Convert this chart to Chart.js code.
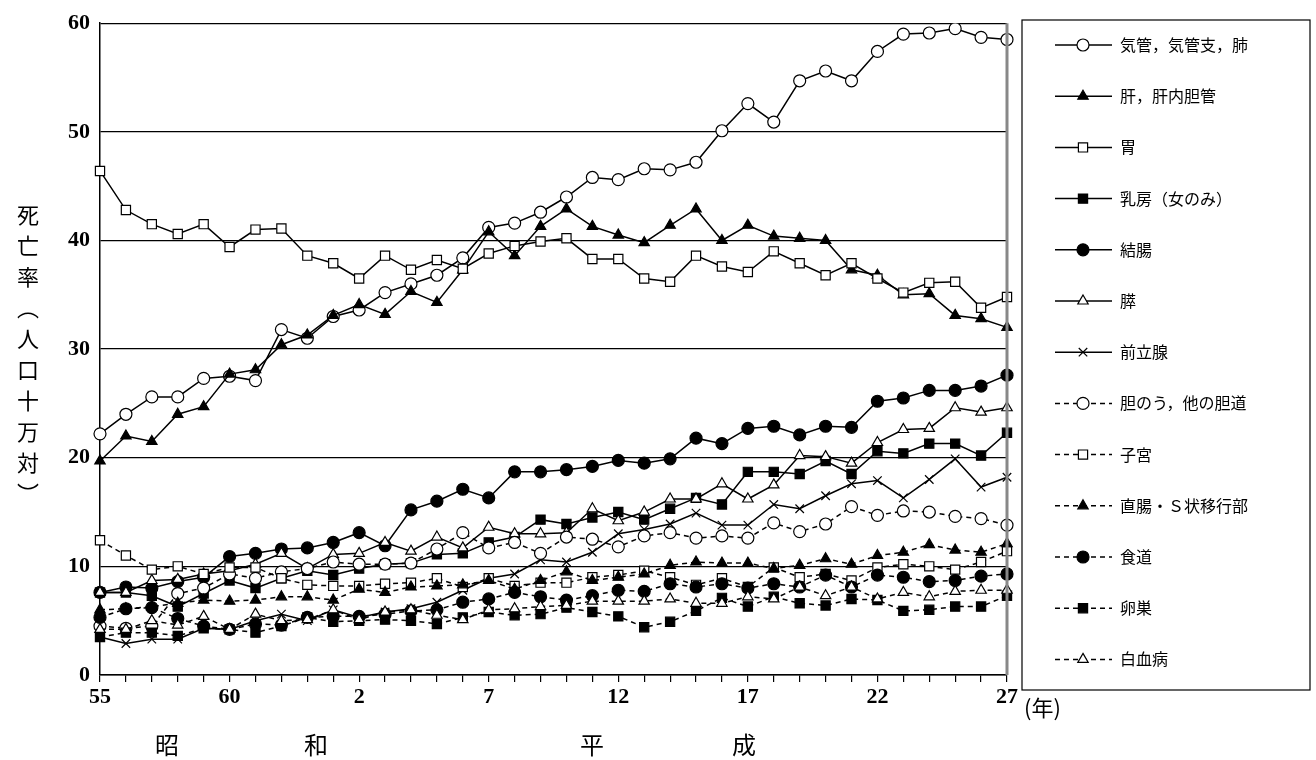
<!DOCTYPE html>
<html>
<head>
<meta charset="utf-8">
<script src="https://cdn.jsdelivr.net/npm/chart.js@4"></script>
<style>
  html, body { margin: 0; padding: 0; background: #fff; }
  #wrap { width: 1316px; height: 760px; position: relative; }
</style>
</head>
<body>
<div id="wrap"><canvas id="c" width="1316" height="760"></canvas></div>
<script>
// x categories: 昭和55 .. 平成27
const years = ['55','56','57','58','59','60','61','62','63','1','2','3','4','5','6','7','8','9','10',
  '11','12','13','14','15','16','17','18','19','20','21','22','23','24','25','26','27'];
const shownTicks = ['55','60','2','7','12','17','22','27'];

const lung = [22.2,24,25.6,25.6,27.3,27.5,27.1,31.8,31,33,33.6,35.2,36,36.8,38.4,41.2,41.6,42.6,44,45.8,
  45.6,46.6,46.5,47.2,50.1,52.6,50.9,54.7,55.6,54.7,57.4,59,59.1,59.5,58.7,58.5];
const liver = [19.7,22,21.5,24,24.7,27.7,28.1,30.4,31.3,33.1,34.1,33.2,35.3,34.3,37.3,40.8,38.6,41.3,42.9,41.3,
  40.5,39.8,41.4,42.9,40,41.4,40.4,40.2,40,37.3,36.8,35,35.1,33.1,32.8,32];
const stomach = [46.4,42.8,41.5,40.6,41.5,39.4,41,41.1,38.6,37.9,36.5,38.6,37.3,38.2,37.4,38.8,39.5,39.9,40.2,38.3,
  38.3,36.5,36.2,38.6,37.6,37.1,39,37.9,36.8,37.9,36.5,35.2,36.1,36.2,33.8,34.8];
const breast = [7.6,7.6,7.3,6.3,7.5,8.7,8,8.9,9.6,9.2,9.8,10.2,10.3,11.1,11.2,12.2,12.7,14.3,13.9,14.5,
  15,14.3,15.3,16.3,15.7,18.7,18.7,18.5,19.7,18.5,20.6,20.4,21.3,21.3,20.2,22.3];
const colon = [7.6,8.1,8,8.6,9,10.9,11.2,11.6,11.7,12.2,13.1,11.9,15.2,16,17.1,16.3,18.7,18.7,18.9,19.2,
  19.75,19.5,19.9,21.8,21.3,22.7,22.9,22.1,22.9,22.8,25.2,25.5,26.2,26.2,26.6,27.6];
const pancreas = [7.6,7.6,8.7,8.8,9.3,9.6,10.2,11.2,9.8,11.1,11.2,12.2,11.4,12.7,11.7,13.6,13,13,13.1,15.3,
  14.2,15,16.2,16.2,17.6,16.2,17.5,20.2,20.1,19.5,21.4,22.6,22.7,24.6,24.2,24.6];
const prostate = [3.5,2.9,3.3,3.3,4.3,4.2,5,5.6,5,6,5.3,5.8,6.1,6.7,7.8,8.9,9.3,10.6,10.4,11.3,
  13,13.4,13.9,14.9,13.8,13.8,15.7,15.3,16.5,17.6,17.9,16.3,18,19.9,17.3,18.2];
const gallbladder = [4.5,4.3,4.5,7.5,8,9.3,8.9,9.5,9.8,10.4,10.2,10.2,10.3,11.6,13.1,11.7,12.2,11.2,12.7,12.5,
  11.8,12.8,13.1,12.6,12.8,12.6,14,13.2,13.9,15.5,14.7,15.1,15,14.6,14.4,13.8];
const uterus = [12.4,11,9.7,10,9.3,9.9,9.9,8.9,8.3,8.2,8.2,8.4,8.5,8.9,8.1,8.9,8.2,8.5,8.5,9,
  9.2,9.6,9,8.3,8.9,8.1,9.9,9,9.3,8.7,9.9,10.2,10,9.7,10.4,11.4];
const rectum = [6,6.1,6.3,6.6,6.9,6.8,6.9,7.2,7.2,6.9,7.9,7.6,8.1,8.2,8.3,8.7,7.9,8.7,9.5,8.7,
  9,9.3,10.1,10.4,10.3,10.3,9.8,10.1,10.7,10.2,11,11.3,12,11.5,11.3,12.1];
const esophagus = [5.3,6.1,6.2,5.2,4.5,4.2,4.7,4.6,5.3,5.4,5.4,5.6,5.9,6,6.7,7,7.6,7.2,6.9,7.3,
  7.8,7.7,8.4,8.1,8.4,8,8.4,8.1,9.2,8.1,9.2,9,8.6,8.7,9.1,9.3];
const ovary = [3.5,3.9,3.9,3.6,4.3,4.2,3.9,4.5,5.3,4.9,5,5.1,5,4.7,5.3,5.8,5.5,5.6,6.2,5.8,
  5.4,4.4,4.9,5.9,7.1,6.3,7.2,6.6,6.4,7,6.9,5.9,6,6.3,6.3,7.3];
const leukemia = [4.2,4.2,5,4.6,5.4,4.2,5.6,5,5.1,6,5.1,5.8,6,5.5,5.1,6,6.1,6.3,6.4,6.8,
  6.8,6.8,7,6.6,6.6,7.2,7,8.1,7.3,8.1,7,7.6,7.2,7.7,7.8,7.8];

const seriesNames = ['気管，気管支，肺','肝，肝内胆管','胃','乳房（女のみ）','結腸','膵','前立腺',
  '胆のう，他の胆道','子宮','直腸・Ｓ状移行部','食道','卵巣','白血病'];
const seriesData = [lung, liver, stomach, breast, colon, pancreas, prostate,
  gallbladder, uterus, rectum, esophagus, ovary, leukemia];
const seriesMarker = ['circle','triangle','rect','rect','circle','triangle','crossRot',
  'circle','rect','triangle','circle','rect','triangle'];
const seriesFilled = [false,true,false,true,true,false,true,false,false,true,true,true,false];
const seriesDashed = [false,false,false,false,false,false,false,true,true,true,true,true,true];

const datasets = seriesData.map((d, i) => ({
  label: seriesNames[i],
  data: d,
  borderColor: '#000',
  borderWidth: 1.5,
  borderDash: seriesDashed[i] ? [5, 4] : [],
  pointStyle: seriesMarker[i],
  pointRadius: seriesMarker[i] === 'rect' ? 6.5 : 6,
  pointBackgroundColor: seriesFilled[i] ? '#000' : '#fff',
  pointBorderColor: '#000',
  pointBorderWidth: 1.2,
  tension: 0,
  order: 13 - i,
}));

const NUMFONT = '"Liberation Serif", serif';
const JPFONT = '"Noto Sans CJK JP", sans-serif';

// legend box + axis texts drawn on the canvas
const decorations = {
  id: 'decorations',
  afterDraw(chart) {
    const ctx = chart.ctx;
    const area = chart.chartArea;
    ctx.save();
    // right border of plot
    ctx.strokeStyle = '#888';
    ctx.lineWidth = 3;
    ctx.beginPath(); ctx.moveTo(area.right, area.top); ctx.lineTo(area.right, area.bottom); ctx.stroke();

    // legend box
    const bx = 1022, by = 20, bw = 288, bh = 670;
    ctx.strokeStyle = '#000'; ctx.lineWidth = 1.2;
    ctx.strokeRect(bx, by, bw, bh);
    chart.data.datasets.forEach((ds, i) => {
      const y = 45 + i * 51.2;
      ctx.strokeStyle = '#000'; ctx.lineWidth = 1.5;
      ctx.setLineDash(ds.borderDash);
      ctx.beginPath(); ctx.moveTo(1055, y); ctx.lineTo(1112, y); ctx.stroke();
      ctx.setLineDash([]);
      ctx.fillStyle = ds.pointBackgroundColor;
      ctx.lineWidth = 1.2;
      Chart.helpers.drawPoint(ctx, { pointStyle: ds.pointStyle, radius: ds.pointRadius, borderWidth: 1.2 }, 1083, y);
      ctx.fillStyle = '#000';
      ctx.font = '16px ' + JPFONT;
      ctx.textBaseline = 'middle';
      ctx.textAlign = 'left';
      ctx.fillText(ds.label, 1120, y);
    });

    // y title, vertical
    ctx.fillStyle = '#000';
    ctx.font = '22px ' + JPFONT;
    ctx.textAlign = 'center';
    ctx.textBaseline = 'middle';
    const title = ['死','亡','率','︵','人','口','十','万','対','︶'];
    title.forEach((ch, k) => ctx.fillText(ch, 28, 215 + k * 31));

    // year unit and eras
    ctx.textAlign = 'left';
    ctx.font = '22px ' + JPFONT;
    ctx.fillText('(年)', 1024, 708);
    ctx.textAlign = 'center';
    ctx.font = '24px ' + JPFONT;
    [['昭',167],['和',316],['平',592],['成',744]].forEach(([t, x]) => ctx.fillText(t, x, 745));
    ctx.restore();
  }
};

new Chart(document.getElementById('c'), {
  type: 'line',
  data: { labels: years, datasets },
  options: {
    responsive: false,
    animation: false,
    layout: { padding: { top: 20, right: 309, left: 0, bottom: 0 } },
    plugins: { legend: { display: false }, tooltip: { enabled: false } },
    scales: {
      x: {
        offset: false,
        afterFit: s => { s.height = 85; },
        grid: { drawOnChartArea: false, color: '#000', tickLength: 7, lineWidth: 1.2 },
        border: { color: '#000', width: 1.5 },
        ticks: {
          autoSkip: false, maxRotation: 0, color: '#000', padding: 2,
          font: { family: NUMFONT, size: 22, weight: 'bold' },
          callback: (v, i) => shownTicks.includes(years[i]) && i % 5 === 0 ? years[i] : '',
        },
      },
      y: {
        min: 0, max: 60,
        afterFit: s => { s.width = 100; },
        grid: { color: '#000', lineWidth: 1.2, drawTicks: false },
        border: { color: '#000', width: 1.5 },
        ticks: { stepSize: 10, color: '#000', padding: 10, font: { family: NUMFONT, size: 22, weight: 'bold' } },
      },
    },
  },
  plugins: [decorations],
});
</script>
</body>
</html>
